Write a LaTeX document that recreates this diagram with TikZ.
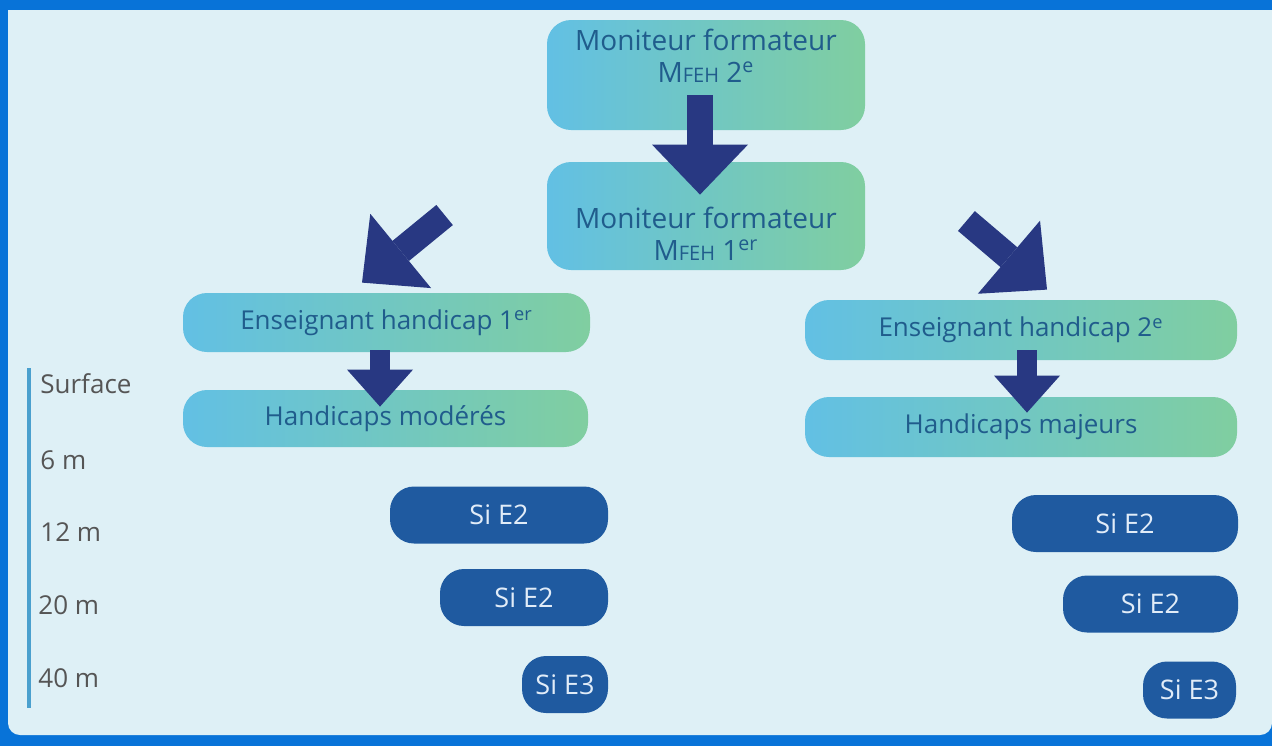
\documentclass[tikz,border=0pt]{standalone}
\usepackage{fontspec}
\setmainfont{Open Sans}
\usetikzlibrary{arrows.meta,calc,positioning}
\definecolor{framebl}{RGB}{8,115,216}
\definecolor{panelbg}{RGB}{222,240,246}
\definecolor{mfblue}{RGB}{98,192,228}
\definecolor{mfgreen}{RGB}{128,206,160}
\definecolor{mftext}{RGB}{32,92,140}
\definecolor{siblue}{RGB}{31,90,160}
\definecolor{sitext}{RGB}{225,236,248}
\definecolor{arrowbl}{RGB}{40,56,130}
\definecolor{scalebl}{RGB}{74,160,206}
\definecolor{scaletx}{RGB}{85,85,85}
\newcommand{\mfeh}[1]{M{\fontsize{10}{10}\selectfont FEH}~#1}
\newcommand{\sinode}[4]{
  \node[sibox, minimum width=#3] (#1) at (#2) {#4};
}
\tikzset{
  x=0.5pt, y=-0.5pt,
  levelbox/.style={rounded corners=12pt, left color=mfblue, right color=mfgreen,
                   text=mftext, font=\fontsize{13}{16}\selectfont, inner sep=0pt},
  leveltext/.style={text=mftext, font=\fontsize{14}{16}\selectfont, align=center},
  sibox/.style={rounded corners=12pt, fill=siblue, text=sitext,
                font=\fontsize{13.5}{16}\selectfont, minimum height=28.5pt, inner sep=0pt},
  scalelabel/.style={anchor=west, text=scaletx, font=\fontsize{13}{16}\selectfont, inner sep=0pt},
  bigarrow/.style={arrowbl, line width=13pt, -{Triangle[length=25pt,width=48pt,line width=0pt]}},
  smallarrow/.style={arrowbl, line width=10pt, -{Triangle[length=18.5pt,width=33pt,line width=0pt]}}
}

\begin{document}
\begin{tikzpicture}
	\useasboundingbox (0,0) rectangle (1272,746);
	\fill[framebl] (0,0) rectangle (1272,746);
	\fill[panelbg] (8,10) {[rounded corners=6pt] -- (8,735) -- (1272,735)} -- (1272,10) -- cycle;

	\node[levelbox, minimum width=159pt, minimum height=55pt] (mf2) at (706,75) {};
	\node[leveltext] (mf2t) at (706,56) {Moniteur formateur\\\mfeh{2\textsuperscript{e}}};
	\node[levelbox, minimum width=159pt, minimum height=54pt] (mf1) at (706,216) {};
	\node[leveltext] (mf1t) at (706,234) {Moniteur formateur\\\mfeh{1\textsuperscript{er}}};
	\node[levelbox, minimum width=203.5pt, minimum height=29.5pt] (ens1) at (386.5,322.5) {Enseignant handicap 1\textsuperscript{er}};
	\node[levelbox, minimum width=202.5pt, minimum height=28.5pt] (mod) at (385.5,418.5) {Handicaps modérés};
	\node[levelbox, minimum width=216pt, minimum height=30pt] (ens2) at (1021,330) {Enseignant handicap 2\textsuperscript{e}};
	\node[levelbox, minimum width=216pt, minimum height=30pt] (maj) at (1021,427) {Handicaps majeurs};

	\draw[bigarrow] ($(mf2.south)+(-6,-35)$) -- ($(mf1.north)+(-6,33)$);
	\draw[bigarrow] ($(mf1.west)+(-102,-1)$) -- ($(ens1.north)+(-24.5,-10)$);
	\draw[bigarrow] ($(mf1.east)+(101,5)$) -- ($(ens2.north)+(26,-10)$);
	\draw[smallarrow] ($(ens1.south)+(-6.5,-2)$) -- ($(mod.north)+(-5.5,17)$);
	\draw[smallarrow] ($(ens2.south)+(6,-10)$) -- ($(maj.north)+(6,16)$);

	\draw[scalebl, line width=2pt] (29,368) -- (29,708);
	\node[scalelabel] (surf) at (40,384) {Surface};
	\node[scalelabel] (m6) at (40,460) {6 m};
	\node[scalelabel] (m12) at (40,532) {12 m};
	\node[scalelabel] (m20) at (38,605) {20 m};
	\node[scalelabel] (m40) at (38,678) {40 m};

	\sinode{le2a}{499,515}{109pt}{Si E2}
	\sinode{le2b}{524,597.5}{84pt}{Si E2}
	\sinode{le3}{565,684.5}{43pt}{Si E3}
	\sinode{re2a}{1125,523.5}{113pt}{Si E2}
	\sinode{re2b}{1150.5,604}{87.5pt}{Si E2}
	\sinode{re3}{1189.5,690}{46.5pt}{Si E3}
\end{tikzpicture}
\end{document}
